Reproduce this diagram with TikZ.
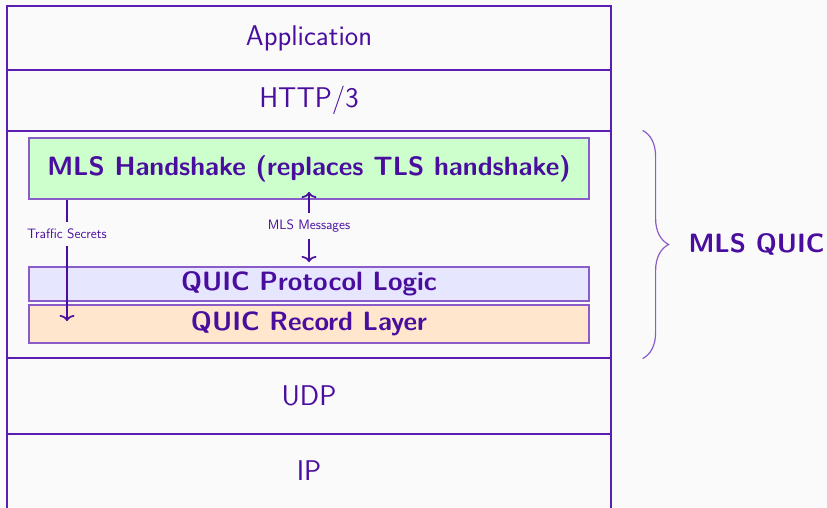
\documentclass[tikz,border=0pt]{standalone}
\usetikzlibrary{decorations.pathreplacing,arrows.meta}
\definecolor{txtc}{HTML}{4A0E9E}
\definecolor{linec}{HTML}{5A1FB0}
\definecolor{boxline}{HTML}{8A5CC8}
\definecolor{bg}{HTML}{FAFAFA}
\definecolor{greenf}{HTML}{CCFFCC}
\definecolor{lavf}{HTML}{E6E6FF}
\definecolor{peachf}{HTML}{FFE6CC}
\tikzset{
  layer/.style={draw=linec, line width=1.2pt, minimum width=604pt, inner sep=0pt, text=txtc, font=\sffamily\fontsize{28.5}{32}\selectfont},
  inbox/.style={draw=boxline, line width=1.2pt, minimum width=560pt, inner sep=0pt, text=txtc, font=\sffamily\bfseries\fontsize{26.5}{30}\selectfont},
  small/.style={text=txtc, font=\sffamily\fontsize{13.6}{15}\selectfont, fill=bg, inner xsep=2pt, inner ysep=7pt},
  tip/.style={To[length=6pt,width=15pt]},
  arr/.style={draw=txtc, line width=1.7pt, -{To[length=6pt,width=15pt]}},
}
\begin{document}
\begin{tikzpicture}[x=1pt,y=-1pt]
\fill[bg] (0,0) rectangle (827,508);
\useasboundingbox (0,0) rectangle (827,508);
\begin{scope}
\clip (0,0) rectangle (827,508);
\node[layer, minimum height=64pt] (app) at (309,38) {Application};
\node[layer, minimum height=61pt] (http) at (309,100.5) {HTTP/3};
\node[layer, minimum height=227pt] (mls) at (309,244.5) {};
\node[layer, minimum height=76pt] (udp) at (309,396) {UDP};
\node[layer, minimum height=80pt] (ip) at (309,474) {};
\node[text=txtc, font=\sffamily\fontsize{28.5}{32}\selectfont] (iptext) at (309,471) {IP};
\end{scope}
\node[inbox, fill=greenf, minimum height=61pt] (hs) at (309,168.5) {MLS Handshake (replaces TLS handshake)};
\node[inbox, fill=lavf, minimum height=34pt] (pl) at (309,284) {QUIC Protocol Logic};
\node[inbox, fill=peachf, minimum height=38pt] (rl) at (309,324) {QUIC Record Layer};
\coordinate (tsEnd) at (67,321);
\draw[arr] (hs.south -| tsEnd) -- (tsEnd);
\node[small] (ts) at (67,234) {Traffic Secrets};
\coordinate (mmTop) at (309,192);
\coordinate (mmBot) at (309,262);
\draw[arr, {To[length=6pt,width=15pt]}-{To[length=6pt,width=15pt]}] (mmTop) -- (mmBot);
\node[small] (mm) at (309,226) {MLS Messages};
\draw[draw=boxline, line width=1.2pt, decorate, decoration={brace, amplitude=26pt}] (mls.north east) ++(31,0) coordinate (bt) -- (mls.south east -| bt);
\node[text=txtc, font=\sffamily\bfseries\fontsize{26.5}{30}\selectfont, anchor=west] (mq) at (685,244) {MLS QUIC};
\end{tikzpicture}
\end{document}
